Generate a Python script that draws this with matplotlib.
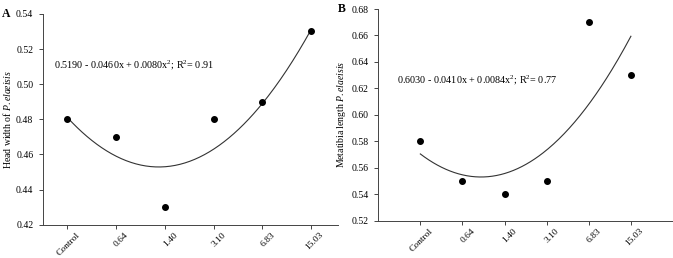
import numpy as np
import matplotlib.pyplot as plt
from matplotlib.transforms import ScaledTranslation

plt.rcParams['font.family'] = 'Liberation Serif'
plt.rcParams['mathtext.fontset'] = 'custom'
plt.rcParams['mathtext.rm'] = 'Liberation Serif'
plt.rcParams['mathtext.it'] = 'Liberation Serif:italic'

doses = ["Control", "0.64", "1.40", "3.10", "6.83", "15.03"]
head_width = [0.48, 0.47, 0.43, 0.48, 0.49, 0.53]
metatibia = [0.58, 0.55, 0.54, 0.55, 0.67, 0.63]
coef_a = [0.5190, -0.0460, 0.0080]
coef_b = [0.6030, -0.0410, 0.0084]

x = np.arange(1, len(doses) + 1)
xs = np.linspace(1, 6, 200)

fig = plt.figure(figsize=(6.73, 2.58), dpi=100)
axA = fig.add_axes([0.064, 0.129, 0.438, 0.817])
axB = fig.add_axes([0.562, 0.145, 0.438, 0.82])

def panel(ax, y, coef, ylim, yticks, ylabel, eq, eqpos, xlim, letter, lpos):
    ax.plot(xs, coef[0] + coef[1] * xs + coef[2] * xs ** 2, color="#333333", lw=0.8)
    ax.plot(x, y, "o", color="black", ms=4)
    ax.set_xlim(*xlim)
    ax.set_ylim(*ylim)
    ax.set_yticks(yticks)
    ax.set_yticklabels(["%.2f" % t for t in yticks])
    ax.tick_params(labelsize=7, length=3, width=0.7, direction="out", color="#444444")
    ax.tick_params(axis="x", labelsize=6.8)
    ax.tick_params(axis="y", pad=4)
    ax.set_xticks(x)
    ax.set_xticklabels(doses, rotation=45, ha="right", va="top", rotation_mode="anchor")
    # shift labels right/up so their upper end sits just right of the tick
    off = ScaledTranslation(6 / 72, 2 / 72, fig.dpi_scale_trans)
    for lab in ax.get_xticklabels():
        lab.set_transform(lab.get_transform() + off)
    for s in ["top", "right"]:
        ax.spines[s].set_visible(False)
    for s in ["left", "bottom"]:
        ax.spines[s].set_linewidth(0.7)
        ax.spines[s].set_color("#444444")
    ax.set_ylabel(ylabel, fontsize=7, labelpad=2.5)
    ax.text(eqpos[0], eqpos[1], eq, fontsize=7.3, va="center", ha="left")
    fig.text(lpos[0], lpos[1], letter, fontsize=8.5, fontweight="bold", va="center", ha="left")

panel(axA, head_width, coef_a, (0.42, 0.54), np.arange(0.42, 0.5401, 0.02),
      r"Head width of $\it{P. elaeisis}$",
      r"0.5190 - 0.0460x + 0.0080x$^2$; R$^2$= 0.91", (0.72, 0.511), (0.5, 6.55), "A",
      (2 / 673, 1 - 14 / 258))
panel(axB, metatibia, coef_b, (0.52, 0.68), np.arange(0.52, 0.6801, 0.02),
      r"Metatibia length $\it{P. elaeisis}$",
      r"0.6030 - 0.0410x + 0.0084x$^2$; R$^2$= 0.77", (0.45, 0.626), (0, 7), "B",
      (338 / 673, 1 - 9 / 258))

fig.savefig("out.png", dpi=100)
